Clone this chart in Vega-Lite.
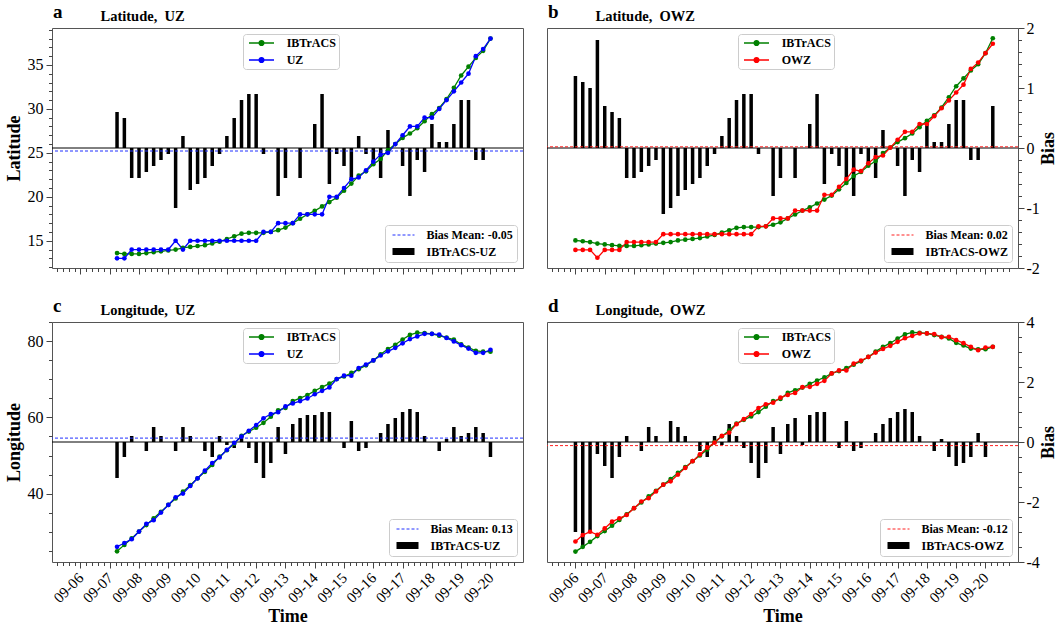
{
  "$schema": "https://vega.github.io/schema/vega-lite/v6.json",
  "padding": {"left": 4, "top": 2, "right": 0, "bottom": 0},
  "config": {
    "font": "Liberation Serif",
    "view": {"stroke": "#555555", "strokeWidth": 1},
    "axis": {"labelFont": "Liberation Serif", "titleFont": "Liberation Serif", "labelColor": "#000000", "titleColor": "#000000", "tickColor": "#444444", "domain": false, "grid": false, "labelOverlap": false, "labelFlush": false},
    "legend": {"labelFont": "Liberation Serif", "labelColor": "#000000"}
  },
  "datasets": {
    "lat_uz": [
      {"time": "2003-09-07T06:00Z", "IBTrACS": 13.6, "UZ": 13, "bias": 0.6},
      {"time": "2003-09-07T12:00Z", "IBTrACS": 13.5, "UZ": 13, "bias": 0.5},
      {"time": "2003-09-07T18:00Z", "IBTrACS": 13.5, "UZ": 14, "bias": -0.5},
      {"time": "2003-09-08T00:00Z", "IBTrACS": 13.5, "UZ": 14, "bias": -0.5},
      {"time": "2003-09-08T06:00Z", "IBTrACS": 13.6, "UZ": 14, "bias": -0.4},
      {"time": "2003-09-08T12:00Z", "IBTrACS": 13.7, "UZ": 14, "bias": -0.3},
      {"time": "2003-09-08T18:00Z", "IBTrACS": 13.8, "UZ": 14, "bias": -0.2},
      {"time": "2003-09-09T00:00Z", "IBTrACS": 13.9, "UZ": 14, "bias": -0.1},
      {"time": "2003-09-09T06:00Z", "IBTrACS": 14.0, "UZ": 15, "bias": -1.0},
      {"time": "2003-09-09T12:00Z", "IBTrACS": 14.2, "UZ": 14, "bias": 0.2},
      {"time": "2003-09-09T18:00Z", "IBTrACS": 14.3, "UZ": 15, "bias": -0.7},
      {"time": "2003-09-10T00:00Z", "IBTrACS": 14.4, "UZ": 15, "bias": -0.6},
      {"time": "2003-09-10T06:00Z", "IBTrACS": 14.5, "UZ": 15, "bias": -0.5},
      {"time": "2003-09-10T12:00Z", "IBTrACS": 14.7, "UZ": 15, "bias": -0.3},
      {"time": "2003-09-10T18:00Z", "IBTrACS": 14.9, "UZ": 15, "bias": -0.1},
      {"time": "2003-09-11T00:00Z", "IBTrACS": 15.2, "UZ": 15, "bias": 0.2},
      {"time": "2003-09-11T06:00Z", "IBTrACS": 15.5, "UZ": 15, "bias": 0.5},
      {"time": "2003-09-11T12:00Z", "IBTrACS": 15.8, "UZ": 15, "bias": 0.8},
      {"time": "2003-09-11T18:00Z", "IBTrACS": 15.9, "UZ": 15, "bias": 0.9},
      {"time": "2003-09-12T00:00Z", "IBTrACS": 15.9, "UZ": 15, "bias": 0.9},
      {"time": "2003-09-12T06:00Z", "IBTrACS": 15.9, "UZ": 16, "bias": -0.1},
      {"time": "2003-09-12T12:00Z", "IBTrACS": 16.0, "UZ": 16, "bias": 0},
      {"time": "2003-09-12T18:00Z", "IBTrACS": 16.2, "UZ": 17, "bias": -0.8},
      {"time": "2003-09-13T00:00Z", "IBTrACS": 16.5, "UZ": 17, "bias": -0.5},
      {"time": "2003-09-13T06:00Z", "IBTrACS": 17.0, "UZ": 17, "bias": 0},
      {"time": "2003-09-13T12:00Z", "IBTrACS": 17.5, "UZ": 18, "bias": -0.5},
      {"time": "2003-09-13T18:00Z", "IBTrACS": 18.0, "UZ": 18, "bias": 0},
      {"time": "2003-09-14T00:00Z", "IBTrACS": 18.4, "UZ": 18, "bias": 0.4},
      {"time": "2003-09-14T06:00Z", "IBTrACS": 18.9, "UZ": 18, "bias": 0.9},
      {"time": "2003-09-14T12:00Z", "IBTrACS": 19.4, "UZ": 20, "bias": -0.6},
      {"time": "2003-09-14T18:00Z", "IBTrACS": 19.9, "UZ": 20, "bias": -0.1},
      {"time": "2003-09-15T00:00Z", "IBTrACS": 20.7, "UZ": 21, "bias": -0.3},
      {"time": "2003-09-15T06:00Z", "IBTrACS": 21.5, "UZ": 22, "bias": -0.5},
      {"time": "2003-09-15T12:00Z", "IBTrACS": 22.4, "UZ": 22.2, "bias": 0.2},
      {"time": "2003-09-15T18:00Z", "IBTrACS": 22.9, "UZ": 23, "bias": -0.1},
      {"time": "2003-09-16T00:00Z", "IBTrACS": 23.7, "UZ": 24, "bias": -0.3},
      {"time": "2003-09-16T06:00Z", "IBTrACS": 24.3, "UZ": 24.8, "bias": -0.5},
      {"time": "2003-09-16T12:00Z", "IBTrACS": 25.3, "UZ": 25, "bias": 0.3},
      {"time": "2003-09-16T18:00Z", "IBTrACS": 26.0, "UZ": 26, "bias": 0},
      {"time": "2003-09-17T00:00Z", "IBTrACS": 26.7, "UZ": 27, "bias": -0.3},
      {"time": "2003-09-17T06:00Z", "IBTrACS": 27.2, "UZ": 28, "bias": -0.8},
      {"time": "2003-09-17T12:00Z", "IBTrACS": 27.8, "UZ": 28, "bias": -0.2},
      {"time": "2003-09-17T18:00Z", "IBTrACS": 28.6, "UZ": 29, "bias": -0.4},
      {"time": "2003-09-18T00:00Z", "IBTrACS": 29.4, "UZ": 29, "bias": 0.4},
      {"time": "2003-09-18T06:00Z", "IBTrACS": 30.1, "UZ": 30, "bias": 0.1},
      {"time": "2003-09-18T12:00Z", "IBTrACS": 31.1, "UZ": 31, "bias": 0.1},
      {"time": "2003-09-18T18:00Z", "IBTrACS": 32.4, "UZ": 32, "bias": 0.4},
      {"time": "2003-09-19T00:00Z", "IBTrACS": 33.8, "UZ": 33, "bias": 0.8},
      {"time": "2003-09-19T06:00Z", "IBTrACS": 34.8, "UZ": 34, "bias": 0.8},
      {"time": "2003-09-19T12:00Z", "IBTrACS": 35.8, "UZ": 36, "bias": -0.2},
      {"time": "2003-09-19T18:00Z", "IBTrACS": 36.6, "UZ": 36.8, "bias": -0.2},
      {"time": "2003-09-20T00:00Z", "IBTrACS": 38.0, "UZ": 38, "bias": 0}
    ],
    "lat_owz": [
      {"time": "2003-09-06T00:00Z", "IBTrACS": 14.2, "OWZ": 13, "bias": 1.2},
      {"time": "2003-09-06T06:00Z", "IBTrACS": 14.1, "OWZ": 13, "bias": 1.1},
      {"time": "2003-09-06T12:00Z", "IBTrACS": 14.0, "OWZ": 13, "bias": 1.0},
      {"time": "2003-09-06T18:00Z", "IBTrACS": 13.8, "OWZ": 12, "bias": 1.8},
      {"time": "2003-09-07T00:00Z", "IBTrACS": 13.7, "OWZ": 13, "bias": 0.7},
      {"time": "2003-09-07T06:00Z", "IBTrACS": 13.6, "OWZ": 13, "bias": 0.6},
      {"time": "2003-09-07T12:00Z", "IBTrACS": 13.5, "OWZ": 13, "bias": 0.5},
      {"time": "2003-09-07T18:00Z", "IBTrACS": 13.5, "OWZ": 14, "bias": -0.5},
      {"time": "2003-09-08T00:00Z", "IBTrACS": 13.5, "OWZ": 14, "bias": -0.5},
      {"time": "2003-09-08T06:00Z", "IBTrACS": 13.6, "OWZ": 14, "bias": -0.4},
      {"time": "2003-09-08T12:00Z", "IBTrACS": 13.7, "OWZ": 14, "bias": -0.3},
      {"time": "2003-09-08T18:00Z", "IBTrACS": 13.8, "OWZ": 14, "bias": -0.2},
      {"time": "2003-09-09T00:00Z", "IBTrACS": 13.9, "OWZ": 15, "bias": -1.1},
      {"time": "2003-09-09T06:00Z", "IBTrACS": 14.0, "OWZ": 15, "bias": -1.0},
      {"time": "2003-09-09T12:00Z", "IBTrACS": 14.2, "OWZ": 15, "bias": -0.8},
      {"time": "2003-09-09T18:00Z", "IBTrACS": 14.3, "OWZ": 15, "bias": -0.7},
      {"time": "2003-09-10T00:00Z", "IBTrACS": 14.4, "OWZ": 15, "bias": -0.6},
      {"time": "2003-09-10T06:00Z", "IBTrACS": 14.5, "OWZ": 15, "bias": -0.5},
      {"time": "2003-09-10T12:00Z", "IBTrACS": 14.7, "OWZ": 15, "bias": -0.3},
      {"time": "2003-09-10T18:00Z", "IBTrACS": 14.9, "OWZ": 15, "bias": -0.1},
      {"time": "2003-09-11T00:00Z", "IBTrACS": 15.2, "OWZ": 15, "bias": 0.2},
      {"time": "2003-09-11T06:00Z", "IBTrACS": 15.5, "OWZ": 15, "bias": 0.5},
      {"time": "2003-09-11T12:00Z", "IBTrACS": 15.8, "OWZ": 15, "bias": 0.8},
      {"time": "2003-09-11T18:00Z", "IBTrACS": 15.9, "OWZ": 15, "bias": 0.9},
      {"time": "2003-09-12T00:00Z", "IBTrACS": 15.9, "OWZ": 15, "bias": 0.9},
      {"time": "2003-09-12T06:00Z", "IBTrACS": 15.9, "OWZ": 16, "bias": -0.1},
      {"time": "2003-09-12T12:00Z", "IBTrACS": 16.0, "OWZ": 16, "bias": 0},
      {"time": "2003-09-12T18:00Z", "IBTrACS": 16.2, "OWZ": 17, "bias": -0.8},
      {"time": "2003-09-13T00:00Z", "IBTrACS": 16.5, "OWZ": 17, "bias": -0.5},
      {"time": "2003-09-13T06:00Z", "IBTrACS": 17.0, "OWZ": 17, "bias": 0},
      {"time": "2003-09-13T12:00Z", "IBTrACS": 17.5, "OWZ": 18, "bias": -0.5},
      {"time": "2003-09-13T18:00Z", "IBTrACS": 18.0, "OWZ": 18, "bias": 0},
      {"time": "2003-09-14T00:00Z", "IBTrACS": 18.4, "OWZ": 18, "bias": 0.4},
      {"time": "2003-09-14T06:00Z", "IBTrACS": 18.9, "OWZ": 18, "bias": 0.9},
      {"time": "2003-09-14T12:00Z", "IBTrACS": 19.4, "OWZ": 20, "bias": -0.6},
      {"time": "2003-09-14T18:00Z", "IBTrACS": 19.9, "OWZ": 20, "bias": -0.1},
      {"time": "2003-09-15T00:00Z", "IBTrACS": 20.7, "OWZ": 21, "bias": -0.3},
      {"time": "2003-09-15T06:00Z", "IBTrACS": 21.5, "OWZ": 22, "bias": -0.5},
      {"time": "2003-09-15T12:00Z", "IBTrACS": 22.4, "OWZ": 23.2, "bias": -0.8},
      {"time": "2003-09-15T18:00Z", "IBTrACS": 22.9, "OWZ": 23, "bias": -0.1},
      {"time": "2003-09-16T00:00Z", "IBTrACS": 23.7, "OWZ": 24, "bias": -0.3},
      {"time": "2003-09-16T06:00Z", "IBTrACS": 24.3, "OWZ": 24.8, "bias": -0.5},
      {"time": "2003-09-16T12:00Z", "IBTrACS": 25.3, "OWZ": 25, "bias": 0.3},
      {"time": "2003-09-16T18:00Z", "IBTrACS": 26.0, "OWZ": 26, "bias": 0},
      {"time": "2003-09-17T00:00Z", "IBTrACS": 26.7, "OWZ": 27, "bias": -0.3},
      {"time": "2003-09-17T06:00Z", "IBTrACS": 27.2, "OWZ": 28, "bias": -0.8},
      {"time": "2003-09-17T12:00Z", "IBTrACS": 27.8, "OWZ": 28, "bias": -0.2},
      {"time": "2003-09-17T18:00Z", "IBTrACS": 28.6, "OWZ": 29, "bias": -0.4},
      {"time": "2003-09-18T00:00Z", "IBTrACS": 29.4, "OWZ": 29, "bias": 0.4},
      {"time": "2003-09-18T06:00Z", "IBTrACS": 30.1, "OWZ": 30, "bias": 0.1},
      {"time": "2003-09-18T12:00Z", "IBTrACS": 31.1, "OWZ": 31, "bias": 0.1},
      {"time": "2003-09-18T18:00Z", "IBTrACS": 32.4, "OWZ": 32, "bias": 0.4},
      {"time": "2003-09-19T00:00Z", "IBTrACS": 33.8, "OWZ": 33, "bias": 0.8},
      {"time": "2003-09-19T06:00Z", "IBTrACS": 34.8, "OWZ": 34, "bias": 0.8},
      {"time": "2003-09-19T12:00Z", "IBTrACS": 35.8, "OWZ": 36, "bias": -0.2},
      {"time": "2003-09-19T18:00Z", "IBTrACS": 36.6, "OWZ": 36.8, "bias": -0.2},
      {"time": "2003-09-20T00:00Z", "IBTrACS": 38.0, "OWZ": 38, "bias": 0},
      {"time": "2003-09-20T06:00Z", "IBTrACS": 39.9, "OWZ": 39.2, "bias": 0.7}
    ],
    "lon_uz": [
      {"time": "2003-09-07T06:00Z", "IBTrACS": 24.8, "UZ": 26.0, "bias": -1.2},
      {"time": "2003-09-07T12:00Z", "IBTrACS": 26.5, "UZ": 27.0, "bias": -0.5},
      {"time": "2003-09-07T18:00Z", "IBTrACS": 28.2, "UZ": 28.0, "bias": 0.2},
      {"time": "2003-09-08T00:00Z", "IBTrACS": 30.0, "UZ": 30.0, "bias": 0},
      {"time": "2003-09-08T06:00Z", "IBTrACS": 31.7, "UZ": 32.0, "bias": -0.3},
      {"time": "2003-09-08T12:00Z", "IBTrACS": 33.5, "UZ": 33.0, "bias": 0.5},
      {"time": "2003-09-08T18:00Z", "IBTrACS": 35.2, "UZ": 35.0, "bias": 0.2},
      {"time": "2003-09-09T00:00Z", "IBTrACS": 37.0, "UZ": 37.0, "bias": 0},
      {"time": "2003-09-09T06:00Z", "IBTrACS": 38.7, "UZ": 39.0, "bias": -0.3},
      {"time": "2003-09-09T12:00Z", "IBTrACS": 40.5, "UZ": 40.0, "bias": 0.5},
      {"time": "2003-09-09T18:00Z", "IBTrACS": 42.2, "UZ": 42.0, "bias": 0.2},
      {"time": "2003-09-10T00:00Z", "IBTrACS": 44.0, "UZ": 44.0, "bias": 0},
      {"time": "2003-09-10T06:00Z", "IBTrACS": 45.7, "UZ": 46.0, "bias": -0.3},
      {"time": "2003-09-10T12:00Z", "IBTrACS": 47.5, "UZ": 48.0, "bias": -0.5},
      {"time": "2003-09-10T18:00Z", "IBTrACS": 49.7, "UZ": 49.5, "bias": 0.2},
      {"time": "2003-09-11T00:00Z", "IBTrACS": 51.4, "UZ": 51.5, "bias": -0.1},
      {"time": "2003-09-11T06:00Z", "IBTrACS": 53.1, "UZ": 53.3, "bias": -0.2},
      {"time": "2003-09-11T12:00Z", "IBTrACS": 55.2, "UZ": 55.0, "bias": 0.2},
      {"time": "2003-09-11T18:00Z", "IBTrACS": 56.3, "UZ": 56.5, "bias": -0.2},
      {"time": "2003-09-12T00:00Z", "IBTrACS": 57.3, "UZ": 58.0, "bias": -0.7},
      {"time": "2003-09-12T06:00Z", "IBTrACS": 58.6, "UZ": 59.8, "bias": -1.2},
      {"time": "2003-09-12T12:00Z", "IBTrACS": 60.2, "UZ": 60.9, "bias": -0.7},
      {"time": "2003-09-12T18:00Z", "IBTrACS": 61.9, "UZ": 61.4, "bias": 0.5},
      {"time": "2003-09-13T00:00Z", "IBTrACS": 62.5, "UZ": 62.9, "bias": -0.4},
      {"time": "2003-09-13T06:00Z", "IBTrACS": 64.3, "UZ": 63.7, "bias": 0.6},
      {"time": "2003-09-13T12:00Z", "IBTrACS": 65.1, "UZ": 64.3, "bias": 0.8},
      {"time": "2003-09-13T18:00Z", "IBTrACS": 65.9, "UZ": 65.0, "bias": 0.9},
      {"time": "2003-09-14T00:00Z", "IBTrACS": 67.0, "UZ": 66.1, "bias": 0.9},
      {"time": "2003-09-14T06:00Z", "IBTrACS": 68.0, "UZ": 67.0, "bias": 1.0},
      {"time": "2003-09-14T12:00Z", "IBTrACS": 68.9, "UZ": 67.9, "bias": 1.0},
      {"time": "2003-09-14T18:00Z", "IBTrACS": 70.1, "UZ": 70.1, "bias": 0},
      {"time": "2003-09-15T00:00Z", "IBTrACS": 70.8, "UZ": 71.0, "bias": -0.2},
      {"time": "2003-09-15T06:00Z", "IBTrACS": 71.7, "UZ": 71.0, "bias": 0.7},
      {"time": "2003-09-15T12:00Z", "IBTrACS": 72.7, "UZ": 73.0, "bias": -0.3},
      {"time": "2003-09-15T18:00Z", "IBTrACS": 73.7, "UZ": 73.9, "bias": -0.2},
      {"time": "2003-09-16T00:00Z", "IBTrACS": 75.0, "UZ": 75.0, "bias": 0},
      {"time": "2003-09-16T06:00Z", "IBTrACS": 76.6, "UZ": 76.3, "bias": 0.3},
      {"time": "2003-09-16T12:00Z", "IBTrACS": 78.0, "UZ": 77.4, "bias": 0.6},
      {"time": "2003-09-16T18:00Z", "IBTrACS": 79.1, "UZ": 78.3, "bias": 0.8},
      {"time": "2003-09-17T00:00Z", "IBTrACS": 80.5, "UZ": 79.5, "bias": 1.0},
      {"time": "2003-09-17T06:00Z", "IBTrACS": 81.7, "UZ": 80.6, "bias": 1.1},
      {"time": "2003-09-17T12:00Z", "IBTrACS": 82.3, "UZ": 81.3, "bias": 1.0},
      {"time": "2003-09-17T18:00Z", "IBTrACS": 82.2, "UZ": 82.0, "bias": 0.2},
      {"time": "2003-09-18T00:00Z", "IBTrACS": 82.0, "UZ": 82.0, "bias": 0},
      {"time": "2003-09-18T06:00Z", "IBTrACS": 81.5, "UZ": 81.8, "bias": -0.3},
      {"time": "2003-09-18T12:00Z", "IBTrACS": 81.0, "UZ": 80.9, "bias": 0.1},
      {"time": "2003-09-18T18:00Z", "IBTrACS": 80.5, "UZ": 80.0, "bias": 0.5},
      {"time": "2003-09-19T00:00Z", "IBTrACS": 79.2, "UZ": 79.0, "bias": 0.2},
      {"time": "2003-09-19T06:00Z", "IBTrACS": 78.4, "UZ": 78.1, "bias": 0.3},
      {"time": "2003-09-19T12:00Z", "IBTrACS": 77.5, "UZ": 77.0, "bias": 0.5},
      {"time": "2003-09-19T18:00Z", "IBTrACS": 77.3, "UZ": 77.0, "bias": 0.3},
      {"time": "2003-09-20T00:00Z", "IBTrACS": 77.3, "UZ": 77.8, "bias": -0.5}
    ],
    "lon_owz": [
      {"time": "2003-09-06T00:00Z", "IBTrACS": 17.1, "OWZ": 20.1, "bias": -3.0},
      {"time": "2003-09-06T06:00Z", "IBTrACS": 18.5, "OWZ": 22.0, "bias": -3.5},
      {"time": "2003-09-06T12:00Z", "IBTrACS": 20.0, "OWZ": 23.0, "bias": -3.0},
      {"time": "2003-09-06T18:00Z", "IBTrACS": 21.7, "OWZ": 22.1, "bias": -0.4},
      {"time": "2003-09-07T00:00Z", "IBTrACS": 23.2, "OWZ": 24.0, "bias": -0.8},
      {"time": "2003-09-07T06:00Z", "IBTrACS": 24.8, "OWZ": 26.0, "bias": -1.2},
      {"time": "2003-09-07T12:00Z", "IBTrACS": 26.5, "OWZ": 27.0, "bias": -0.5},
      {"time": "2003-09-07T18:00Z", "IBTrACS": 28.2, "OWZ": 28.0, "bias": 0.2},
      {"time": "2003-09-08T00:00Z", "IBTrACS": 30.0, "OWZ": 30.0, "bias": 0},
      {"time": "2003-09-08T06:00Z", "IBTrACS": 31.7, "OWZ": 32.0, "bias": -0.3},
      {"time": "2003-09-08T12:00Z", "IBTrACS": 33.5, "OWZ": 33.0, "bias": 0.5},
      {"time": "2003-09-08T18:00Z", "IBTrACS": 35.2, "OWZ": 35.0, "bias": 0.2},
      {"time": "2003-09-09T00:00Z", "IBTrACS": 37.0, "OWZ": 37.0, "bias": 0},
      {"time": "2003-09-09T06:00Z", "IBTrACS": 38.7, "OWZ": 38.0, "bias": 0.7},
      {"time": "2003-09-09T12:00Z", "IBTrACS": 40.5, "OWZ": 40.0, "bias": 0.5},
      {"time": "2003-09-09T18:00Z", "IBTrACS": 42.2, "OWZ": 42.0, "bias": 0.2},
      {"time": "2003-09-10T00:00Z", "IBTrACS": 44.0, "OWZ": 44.0, "bias": 0},
      {"time": "2003-09-10T06:00Z", "IBTrACS": 45.7, "OWZ": 46.0, "bias": -0.3},
      {"time": "2003-09-10T12:00Z", "IBTrACS": 47.5, "OWZ": 48.0, "bias": -0.5},
      {"time": "2003-09-10T18:00Z", "IBTrACS": 49.7, "OWZ": 49.5, "bias": 0.2},
      {"time": "2003-09-11T00:00Z", "IBTrACS": 51.4, "OWZ": 51.5, "bias": -0.1},
      {"time": "2003-09-11T06:00Z", "IBTrACS": 53.1, "OWZ": 52.5, "bias": 0.6},
      {"time": "2003-09-11T12:00Z", "IBTrACS": 55.2, "OWZ": 55.0, "bias": 0.2},
      {"time": "2003-09-11T18:00Z", "IBTrACS": 56.3, "OWZ": 56.5, "bias": -0.2},
      {"time": "2003-09-12T00:00Z", "IBTrACS": 57.3, "OWZ": 58.0, "bias": -0.7},
      {"time": "2003-09-12T06:00Z", "IBTrACS": 58.6, "OWZ": 59.8, "bias": -1.2},
      {"time": "2003-09-12T12:00Z", "IBTrACS": 60.2, "OWZ": 60.9, "bias": -0.7},
      {"time": "2003-09-12T18:00Z", "IBTrACS": 61.9, "OWZ": 61.4, "bias": 0.5},
      {"time": "2003-09-13T00:00Z", "IBTrACS": 62.5, "OWZ": 62.9, "bias": -0.4},
      {"time": "2003-09-13T06:00Z", "IBTrACS": 64.3, "OWZ": 63.7, "bias": 0.6},
      {"time": "2003-09-13T12:00Z", "IBTrACS": 65.1, "OWZ": 64.3, "bias": 0.8},
      {"time": "2003-09-13T18:00Z", "IBTrACS": 65.9, "OWZ": 66.0, "bias": -0.1},
      {"time": "2003-09-14T00:00Z", "IBTrACS": 67.0, "OWZ": 66.1, "bias": 0.9},
      {"time": "2003-09-14T06:00Z", "IBTrACS": 68.0, "OWZ": 67.0, "bias": 1.0},
      {"time": "2003-09-14T12:00Z", "IBTrACS": 68.9, "OWZ": 67.9, "bias": 1.0},
      {"time": "2003-09-14T18:00Z", "IBTrACS": 70.1, "OWZ": 70.1, "bias": 0},
      {"time": "2003-09-15T00:00Z", "IBTrACS": 70.8, "OWZ": 71.0, "bias": -0.2},
      {"time": "2003-09-15T06:00Z", "IBTrACS": 71.7, "OWZ": 71.0, "bias": 0.7},
      {"time": "2003-09-15T12:00Z", "IBTrACS": 72.7, "OWZ": 73.0, "bias": -0.3},
      {"time": "2003-09-15T18:00Z", "IBTrACS": 73.7, "OWZ": 73.9, "bias": -0.2},
      {"time": "2003-09-16T00:00Z", "IBTrACS": 75.0, "OWZ": 75.0, "bias": 0},
      {"time": "2003-09-16T06:00Z", "IBTrACS": 76.6, "OWZ": 76.3, "bias": 0.3},
      {"time": "2003-09-16T12:00Z", "IBTrACS": 78.0, "OWZ": 77.4, "bias": 0.6},
      {"time": "2003-09-16T18:00Z", "IBTrACS": 79.1, "OWZ": 78.3, "bias": 0.8},
      {"time": "2003-09-17T00:00Z", "IBTrACS": 80.5, "OWZ": 79.5, "bias": 1.0},
      {"time": "2003-09-17T06:00Z", "IBTrACS": 81.7, "OWZ": 80.6, "bias": 1.1},
      {"time": "2003-09-17T12:00Z", "IBTrACS": 82.3, "OWZ": 81.3, "bias": 1.0},
      {"time": "2003-09-17T18:00Z", "IBTrACS": 82.2, "OWZ": 82.0, "bias": 0.2},
      {"time": "2003-09-18T00:00Z", "IBTrACS": 82.0, "OWZ": 82.0, "bias": 0},
      {"time": "2003-09-18T06:00Z", "IBTrACS": 81.5, "OWZ": 81.8, "bias": -0.3},
      {"time": "2003-09-18T12:00Z", "IBTrACS": 81.0, "OWZ": 80.9, "bias": 0.1},
      {"time": "2003-09-18T18:00Z", "IBTrACS": 80.5, "OWZ": 81.0, "bias": -0.5},
      {"time": "2003-09-19T00:00Z", "IBTrACS": 79.2, "OWZ": 80.0, "bias": -0.8},
      {"time": "2003-09-19T06:00Z", "IBTrACS": 78.4, "OWZ": 79.1, "bias": -0.7},
      {"time": "2003-09-19T12:00Z", "IBTrACS": 77.5, "OWZ": 78.0, "bias": -0.5},
      {"time": "2003-09-19T18:00Z", "IBTrACS": 77.3, "OWZ": 77.0, "bias": 0.3},
      {"time": "2003-09-20T00:00Z", "IBTrACS": 77.3, "OWZ": 77.8, "bias": -0.5},
      {"time": "2003-09-20T06:00Z", "IBTrACS": 78.0, "OWZ": 78.0, "bias": 0}
    ]
  },
  "resolve": {
    "scale": {"color": "independent", "stroke": "independent"},
    "legend": {"color": "independent", "stroke": "independent"}
  },
  "concat": [
    {
      "width": 471, "height": 240,
      "title": {"text": "a", "anchor": "start", "frame": "group", "fontSize": 19, "fontWeight": "bold", "offset": -14, "dx": 1, "color": "#000000"},
      "resolve": {"scale": {"y": "independent"}, "axis": {"x": "independent", "y": "independent"}},
      "layer": [
        {"data": {"name": "lat_uz"},
         "mark": {"type": "bar", "width": 3.5, "color": "#000000"},
         "encoding": {
           "x": {"field": "time", "type": "temporal", "scale": {"type": "utc", "domain": [1062737280000, 1064097216000]},
                 "axis": {"orient": "top", "ticks": false, "labels": false, "title": "Latitude,\u00a0 UZ", "titleX": 48, "titleY": -8, "titleAlign": "left", "titleAnchor": "start", "titleAngle": 0, "titleBaseline": "alphabetic", "titleFontSize": 14.5, "titleFontWeight": "bold", "titlePadding": 0}},
           "y": {"field": "bias", "type": "quantitative", "scale": {"domain": [-2, 2], "nice": false, "zero": false}, "axis": null}
         }},
        {"data": {"values": [{"kind": "Bias Mean: -0.05", "bias": -0.05}]},
         "mark": {"type": "rule", "color": "#000000", "strokeWidth": 1},
         "encoding": {"y": {"datum": 0, "type": "quantitative", "scale": {"domain": [-2, 2], "nice": false, "zero": false}, "axis": null}}},
        {"data": {"values": [{"kind": "Bias Mean: -0.05", "bias": -0.05}]},
         "mark": {"type": "rule"},
         "encoding": {
           "y": {"field": "bias", "type": "quantitative", "scale": {"domain": [-2, 2], "nice": false, "zero": false}, "axis": null},
           "strokeDash": {"value": [3, 2]},
           "strokeWidth": {"value": 1},
           "stroke": {"field": "kind", "type": "nominal", "scale": {"domain": ["Bias Mean: -0.05", "IBTrACS-UZ"], "range": ["#2030ff", "#000000"]},
                      "legend": {"orient": "bottom-right", "offset": 6, "title": null, "symbolType": "M-4.4,0H4.4", "symbolSize": 25, "clipHeight": 12,
                                 "symbolDash": {"expr": "datum.value === 'IBTrACS-UZ' ? [1, 0] : [3, 2]"},
                                 "symbolStrokeWidth": {"expr": "(datum.value === 'IBTrACS-UZ' ? 7 : 1)"},
                                 "labelFontSize": 12, "labelFontWeight": "bold", "fillColor": "#ffffff", "strokeColor": "#cccccc", "cornerRadius": 3, "padding": 4, "rowPadding": 4.6, "symbolOffset": 8.5, "labelOffset": 17}}
         }},
        {"data": {"name": "lat_uz"},
         "transform": [{"fold": ["IBTrACS", "UZ"], "as": ["series", "value"]}],
         "mark": {"type": "line", "strokeWidth": 1.3},
         "encoding": {
           "x": {"field": "time", "type": "temporal", "scale": {"type": "utc", "domain": [1062737280000, 1064097216000]},
                 "axis": {"orient": "bottom", "values": [1062806400000,1062892800000,1062979200000,1063065600000,1063152000000,1063238400000,1063324800000,1063411200000,1063497600000,1063584000000,1063670400000,1063756800000,1063843200000,1063929600000,1064016000000],
                          "labels": false, "title": null, "tickSize": 6}},
           "y": {"field": "value", "type": "quantitative", "scale": {"domain": [11.9, 39.2], "nice": false, "zero": false},
                 "axis": {"orient": "left", "values": [15, 20, 25, 30, 35], "tickSize": 6, "labelFontSize": 16, "labelPadding": 3,
                          "title": "Latitude", "titleFontSize": 18, "titleFontWeight": "bold", "titlePadding": 4}},
           "color": {"field": "series", "type": "nominal", "scale": {"domain": ["IBTrACS", "UZ"], "range": ["#008000", "#0000ff"]},
                     "legend": {"orient": "none", "legendX": 191, "legendY": 6, "title": null, "symbolType": "M-4.17,0H4.17 M0.8,0A0.8,0.8,0,1,1,-0.8,0A0.8,0.8,0,1,1,0.8,0 M0.45,0A0.45,0.45,0,1,1,-0.45,0A0.45,0.45,0,1,1,0.45,0 M0.12,0A0.12,0.12,0,1,1,-0.12,0A0.12,0.12,0,1,1,0.12,0", "symbolSize": 36, "symbolStrokeWidth": 1.3, "labelFontSize": 12, "labelFontWeight": "bold", "fillColor": "#ffffff", "strokeColor": "#cccccc", "cornerRadius": 3, "padding": 3, "rowPadding": 5, "symbolOffset": 9.5, "labelOffset": 19.2}}
         }},
        {"data": {"name": "lat_uz"},
         "transform": [{"fold": ["IBTrACS", "UZ"], "as": ["series", "value"]}],
         "mark": {"type": "point", "filled": true, "size": 22, "opacity": 1},
         "encoding": {
           "x": {"field": "time", "type": "temporal", "scale": {"type": "utc", "domain": [1062737280000, 1064097216000]},
                 "axis": {"orient": "bottom", "values": [1062737280000,1062754560000,1062771840000,1062789120000,1062806400000,1062823680000,1062840960000,1062858240000,1062875520000,1062892800000,1062910080000,1062927360000,1062944640000,1062961920000,1062979200000,1062996480000,1063013760000,1063031040000,1063048320000,1063065600000,1063082880000,1063100160000,1063117440000,1063134720000,1063152000000,1063169280000,1063186560000,1063203840000,1063221120000,1063238400000,1063255680000,1063272960000,1063290240000,1063307520000,1063324800000,1063342080000,1063359360000,1063376640000,1063393920000,1063411200000,1063428480000,1063445760000,1063463040000,1063480320000,1063497600000,1063514880000,1063532160000,1063549440000,1063566720000,1063584000000,1063601280000,1063618560000,1063635840000,1063653120000,1063670400000,1063687680000,1063704960000,1063722240000,1063739520000,1063756800000,1063774080000,1063791360000,1063808640000,1063825920000,1063843200000,1063860480000,1063877760000,1063895040000,1063912320000,1063929600000,1063946880000,1063964160000,1063981440000,1063998720000,1064016000000,1064033280000,1064050560000,1064067840000,1064085120000],
                          "labels": false, "title": null, "tickSize": 3.5}},
           "y": {"field": "value", "type": "quantitative", "scale": {"domain": [11.9, 39.2], "nice": false, "zero": false},
                 "axis": {"orient": "left", "values": [12,13,14,16,17,18,19,21,22,23,24,26,27,28,29,31,32,33,34,36,37,38,39], "labels": false, "title": null, "tickSize": 3.5}},
           "color": {"field": "series", "type": "nominal", "scale": {"domain": ["IBTrACS", "UZ"], "range": ["#008000", "#0000ff"]},
                     "legend": {"orient": "none", "legendX": 191, "legendY": 6, "title": null, "symbolType": "M-4.17,0H4.17 M0.8,0A0.8,0.8,0,1,1,-0.8,0A0.8,0.8,0,1,1,0.8,0 M0.45,0A0.45,0.45,0,1,1,-0.45,0A0.45,0.45,0,1,1,0.45,0 M0.12,0A0.12,0.12,0,1,1,-0.12,0A0.12,0.12,0,1,1,0.12,0", "symbolSize": 36, "symbolStrokeWidth": 1.3, "labelFontSize": 12, "labelFontWeight": "bold", "fillColor": "#ffffff", "strokeColor": "#cccccc", "cornerRadius": 3, "padding": 3, "rowPadding": 5, "symbolOffset": 9.5, "labelOffset": 19.2}}
         }}
      ]
    },
    {
      "width": 471, "height": 240,
      "title": {"text": "b", "anchor": "start", "frame": "group", "fontSize": 19, "fontWeight": "bold", "offset": -14, "dx": 1, "color": "#000000"},
      "resolve": {"scale": {"y": "independent"}, "axis": {"x": "independent", "y": "independent"}},
      "layer": [
        {"data": {"name": "lat_owz"},
         "mark": {"type": "bar", "width": 3.5, "color": "#000000"},
         "encoding": {
           "x": {"field": "time", "type": "temporal", "scale": {"type": "utc", "domain": [1062737280000, 1064097216000]},
                 "axis": {"orient": "top", "ticks": false, "labels": false, "title": "Latitude,\u00a0 OWZ", "titleX": 48, "titleY": -8, "titleAlign": "left", "titleAnchor": "start", "titleAngle": 0, "titleBaseline": "alphabetic", "titleFontSize": 14.5, "titleFontWeight": "bold", "titlePadding": 0}},
           "y": {"field": "bias", "type": "quantitative", "scale": {"domain": [-2, 2], "nice": false, "zero": false},
                 "axis": {"orient": "right", "values": [-2, -1, 0, 1, 2], "labelExpr": "datum.value < 0 ? '-' + abs(datum.value) : '' + datum.value",
                          "tickSize": 6, "labelFontSize": 16, "labelPadding": 2, "title": "Bias", "titleAngle": 270, "titleBaseline": "top", "titleFontSize": 18, "titleFontWeight": "bold", "titlePadding": 0}}
         }},
        {"data": {"values": [{"kind": "Bias Mean: 0.02", "bias": 0.02}]},
         "mark": {"type": "rule", "color": "#000000", "strokeWidth": 1},
         "encoding": {"y": {"datum": 0, "type": "quantitative", "scale": {"domain": [-2, 2], "nice": false, "zero": false},
                            "axis": {"orient": "right", "values": [-1.8,-1.6,-1.4,-1.2,-0.8,-0.6,-0.4,-0.2,0.2,0.4,0.6,0.8,1.2,1.4,1.6,1.8], "labels": false, "title": null, "tickSize": 3.5}}}},
        {"data": {"values": [{"kind": "Bias Mean: 0.02", "bias": 0.02}]},
         "mark": {"type": "rule"},
         "encoding": {
           "y": {"field": "bias", "type": "quantitative", "scale": {"domain": [-2, 2], "nice": false, "zero": false}, "axis": null},
           "strokeDash": {"value": [3, 2]},
           "strokeWidth": {"value": 1},
           "stroke": {"field": "kind", "type": "nominal", "scale": {"domain": ["Bias Mean: 0.02", "IBTrACS-OWZ"], "range": ["#ff2020", "#000000"]},
                      "legend": {"orient": "bottom-right", "offset": 6, "title": null, "symbolType": "M-4.4,0H4.4", "symbolSize": 25, "clipHeight": 12,
                                 "symbolDash": {"expr": "datum.value === 'IBTrACS-OWZ' ? [1, 0] : [3, 2]"},
                                 "symbolStrokeWidth": {"expr": "(datum.value === 'IBTrACS-OWZ' ? 7 : 1)"},
                                 "labelFontSize": 12, "labelFontWeight": "bold", "fillColor": "#ffffff", "strokeColor": "#cccccc", "cornerRadius": 3, "padding": 4, "rowPadding": 4.6, "symbolOffset": 8.5, "labelOffset": 17}}
         }},
        {"data": {"name": "lat_owz"},
         "transform": [{"fold": ["IBTrACS", "OWZ"], "as": ["series", "value"]}],
         "mark": {"type": "line", "strokeWidth": 1.3},
         "encoding": {
           "x": {"field": "time", "type": "temporal", "scale": {"type": "utc", "domain": [1062737280000, 1064097216000]},
                 "axis": {"orient": "bottom", "values": [1062806400000,1062892800000,1062979200000,1063065600000,1063152000000,1063238400000,1063324800000,1063411200000,1063497600000,1063584000000,1063670400000,1063756800000,1063843200000,1063929600000,1064016000000],
                          "labels": false, "title": null, "tickSize": 6}},
           "y": {"field": "value", "type": "quantitative", "scale": {"domain": [10.7, 41.2], "nice": false, "zero": false}, "axis": null},
           "color": {"field": "series", "type": "nominal", "scale": {"domain": ["IBTrACS", "OWZ"], "range": ["#008000", "#ff0000"]},
                     "legend": {"orient": "none", "legendX": 191, "legendY": 6, "title": null, "symbolType": "M-4.17,0H4.17 M0.8,0A0.8,0.8,0,1,1,-0.8,0A0.8,0.8,0,1,1,0.8,0 M0.45,0A0.45,0.45,0,1,1,-0.45,0A0.45,0.45,0,1,1,0.45,0 M0.12,0A0.12,0.12,0,1,1,-0.12,0A0.12,0.12,0,1,1,0.12,0", "symbolSize": 36, "symbolStrokeWidth": 1.3, "labelFontSize": 12, "labelFontWeight": "bold", "fillColor": "#ffffff", "strokeColor": "#cccccc", "cornerRadius": 3, "padding": 3, "rowPadding": 5, "symbolOffset": 9.5, "labelOffset": 19.2}}
         }},
        {"data": {"name": "lat_owz"},
         "transform": [{"fold": ["IBTrACS", "OWZ"], "as": ["series", "value"]}],
         "mark": {"type": "point", "filled": true, "size": 22, "opacity": 1},
         "encoding": {
           "x": {"field": "time", "type": "temporal", "scale": {"type": "utc", "domain": [1062737280000, 1064097216000]},
                 "axis": {"orient": "bottom", "values": [1062737280000,1062754560000,1062771840000,1062789120000,1062806400000,1062823680000,1062840960000,1062858240000,1062875520000,1062892800000,1062910080000,1062927360000,1062944640000,1062961920000,1062979200000,1062996480000,1063013760000,1063031040000,1063048320000,1063065600000,1063082880000,1063100160000,1063117440000,1063134720000,1063152000000,1063169280000,1063186560000,1063203840000,1063221120000,1063238400000,1063255680000,1063272960000,1063290240000,1063307520000,1063324800000,1063342080000,1063359360000,1063376640000,1063393920000,1063411200000,1063428480000,1063445760000,1063463040000,1063480320000,1063497600000,1063514880000,1063532160000,1063549440000,1063566720000,1063584000000,1063601280000,1063618560000,1063635840000,1063653120000,1063670400000,1063687680000,1063704960000,1063722240000,1063739520000,1063756800000,1063774080000,1063791360000,1063808640000,1063825920000,1063843200000,1063860480000,1063877760000,1063895040000,1063912320000,1063929600000,1063946880000,1063964160000,1063981440000,1063998720000,1064016000000,1064033280000,1064050560000,1064067840000,1064085120000],
                          "labels": false, "title": null, "tickSize": 3.5}},
           "y": {"field": "value", "type": "quantitative", "scale": {"domain": [10.7, 41.2], "nice": false, "zero": false}, "axis": null},
           "color": {"field": "series", "type": "nominal", "scale": {"domain": ["IBTrACS", "OWZ"], "range": ["#008000", "#ff0000"]},
                     "legend": {"orient": "none", "legendX": 191, "legendY": 6, "title": null, "symbolType": "M-4.17,0H4.17 M0.8,0A0.8,0.8,0,1,1,-0.8,0A0.8,0.8,0,1,1,0.8,0 M0.45,0A0.45,0.45,0,1,1,-0.45,0A0.45,0.45,0,1,1,0.45,0 M0.12,0A0.12,0.12,0,1,1,-0.12,0A0.12,0.12,0,1,1,0.12,0", "symbolSize": 36, "symbolStrokeWidth": 1.3, "labelFontSize": 12, "labelFontWeight": "bold", "fillColor": "#ffffff", "strokeColor": "#cccccc", "cornerRadius": 3, "padding": 3, "rowPadding": 5, "symbolOffset": 9.5, "labelOffset": 19.2}}
         }}
      ]
    },
    {
      "width": 471, "height": 240,
      "title": {"text": "c", "anchor": "start", "frame": "group", "fontSize": 19, "fontWeight": "bold", "offset": -14, "dx": 1, "color": "#000000"},
      "resolve": {"scale": {"y": "independent"}, "axis": {"x": "independent", "y": "independent"}},
      "layer": [
        {"data": {"name": "lon_uz"},
         "mark": {"type": "bar", "width": 3.5, "color": "#000000"},
         "encoding": {
           "x": {"field": "time", "type": "temporal", "scale": {"type": "utc", "domain": [1062737280000, 1064097216000]},
                 "axis": {"orient": "top", "ticks": false, "labels": false, "title": "Longitude,\u00a0 UZ", "titleX": 48, "titleY": -8, "titleAlign": "left", "titleAnchor": "start", "titleAngle": 0, "titleBaseline": "alphabetic", "titleFontSize": 14.5, "titleFontWeight": "bold", "titlePadding": 0}},
           "y": {"field": "bias", "type": "quantitative", "scale": {"domain": [-4, 4], "nice": false, "zero": false}, "axis": null}
         }},
        {"data": {"values": [{"kind": "Bias Mean: 0.13", "bias": 0.13}]},
         "mark": {"type": "rule", "color": "#000000", "strokeWidth": 1},
         "encoding": {"y": {"datum": 0, "type": "quantitative", "scale": {"domain": [-4, 4], "nice": false, "zero": false}, "axis": null}}},
        {"data": {"values": [{"kind": "Bias Mean: 0.13", "bias": 0.13}]},
         "mark": {"type": "rule"},
         "encoding": {
           "y": {"field": "bias", "type": "quantitative", "scale": {"domain": [-4, 4], "nice": false, "zero": false}, "axis": null},
           "strokeDash": {"value": [3, 2]},
           "strokeWidth": {"value": 1},
           "stroke": {"field": "kind", "type": "nominal", "scale": {"domain": ["Bias Mean: 0.13", "IBTrACS-UZ"], "range": ["#2030ff", "#000000"]},
                      "legend": {"orient": "bottom-right", "offset": 6, "title": null, "symbolType": "M-4.4,0H4.4", "symbolSize": 25, "clipHeight": 12,
                                 "symbolDash": {"expr": "datum.value === 'IBTrACS-UZ' ? [1, 0] : [3, 2]"},
                                 "symbolStrokeWidth": {"expr": "(datum.value === 'IBTrACS-UZ' ? 7 : 1)"},
                                 "labelFontSize": 12, "labelFontWeight": "bold", "fillColor": "#ffffff", "strokeColor": "#cccccc", "cornerRadius": 3, "padding": 4, "rowPadding": 4.6, "symbolOffset": 8.5, "labelOffset": 17}}
         }},
        {"data": {"name": "lon_uz"},
         "transform": [{"fold": ["IBTrACS", "UZ"], "as": ["series", "value"]}],
         "mark": {"type": "line", "strokeWidth": 1.3},
         "encoding": {
           "x": {"field": "time", "type": "temporal", "scale": {"type": "utc", "domain": [1062737280000, 1064097216000]},
                 "axis": {"orient": "bottom", "values": [1062806400000,1062892800000,1062979200000,1063065600000,1063152000000,1063238400000,1063324800000,1063411200000,1063497600000,1063584000000,1063670400000,1063756800000,1063843200000,1063929600000,1064016000000],
                          "labelExpr": "utcFormat(datum.value, '%m-%d')", "labelAngle": -45, "labelAlign": "right", "labelBaseline": "middle", "labelFontSize": 15, "labelPadding": 7,
                          "title": "Time", "titleFontSize": 18, "titleFontWeight": "bold", "titlePadding": 2, "tickSize": 6}},
           "y": {"field": "value", "type": "quantitative", "scale": {"domain": [22.0, 85.1], "nice": false, "zero": false},
                 "axis": {"orient": "left", "values": [40, 60, 80], "tickSize": 6, "labelFontSize": 16, "labelPadding": 3,
                          "title": "Longitude", "titleFontSize": 18, "titleFontWeight": "bold", "titlePadding": 4}},
           "color": {"field": "series", "type": "nominal", "scale": {"domain": ["IBTrACS", "UZ"], "range": ["#008000", "#0000ff"]},
                     "legend": {"orient": "none", "legendX": 191, "legendY": 6, "title": null, "symbolType": "M-4.17,0H4.17 M0.8,0A0.8,0.8,0,1,1,-0.8,0A0.8,0.8,0,1,1,0.8,0 M0.45,0A0.45,0.45,0,1,1,-0.45,0A0.45,0.45,0,1,1,0.45,0 M0.12,0A0.12,0.12,0,1,1,-0.12,0A0.12,0.12,0,1,1,0.12,0", "symbolSize": 36, "symbolStrokeWidth": 1.3, "labelFontSize": 12, "labelFontWeight": "bold", "fillColor": "#ffffff", "strokeColor": "#cccccc", "cornerRadius": 3, "padding": 3, "rowPadding": 5, "symbolOffset": 9.5, "labelOffset": 19.2}}
         }},
        {"data": {"name": "lon_uz"},
         "transform": [{"fold": ["IBTrACS", "UZ"], "as": ["series", "value"]}],
         "mark": {"type": "point", "filled": true, "size": 22, "opacity": 1},
         "encoding": {
           "x": {"field": "time", "type": "temporal", "scale": {"type": "utc", "domain": [1062737280000, 1064097216000]},
                 "axis": {"orient": "bottom", "values": [1062737280000,1062754560000,1062771840000,1062789120000,1062806400000,1062823680000,1062840960000,1062858240000,1062875520000,1062892800000,1062910080000,1062927360000,1062944640000,1062961920000,1062979200000,1062996480000,1063013760000,1063031040000,1063048320000,1063065600000,1063082880000,1063100160000,1063117440000,1063134720000,1063152000000,1063169280000,1063186560000,1063203840000,1063221120000,1063238400000,1063255680000,1063272960000,1063290240000,1063307520000,1063324800000,1063342080000,1063359360000,1063376640000,1063393920000,1063411200000,1063428480000,1063445760000,1063463040000,1063480320000,1063497600000,1063514880000,1063532160000,1063549440000,1063566720000,1063584000000,1063601280000,1063618560000,1063635840000,1063653120000,1063670400000,1063687680000,1063704960000,1063722240000,1063739520000,1063756800000,1063774080000,1063791360000,1063808640000,1063825920000,1063843200000,1063860480000,1063877760000,1063895040000,1063912320000,1063929600000,1063946880000,1063964160000,1063981440000,1063998720000,1064016000000,1064033280000,1064050560000,1064067840000,1064085120000],
                          "labels": false, "title": null, "tickSize": 3.5}},
           "y": {"field": "value", "type": "quantitative", "scale": {"domain": [22.0, 85.1], "nice": false, "zero": false},
                 "axis": {"orient": "left", "values": [25, 30, 35, 45, 50, 55, 65, 70, 75, 85], "labels": false, "title": null, "tickSize": 3.5}},
           "color": {"field": "series", "type": "nominal", "scale": {"domain": ["IBTrACS", "UZ"], "range": ["#008000", "#0000ff"]},
                     "legend": {"orient": "none", "legendX": 191, "legendY": 6, "title": null, "symbolType": "M-4.17,0H4.17 M0.8,0A0.8,0.8,0,1,1,-0.8,0A0.8,0.8,0,1,1,0.8,0 M0.45,0A0.45,0.45,0,1,1,-0.45,0A0.45,0.45,0,1,1,0.45,0 M0.12,0A0.12,0.12,0,1,1,-0.12,0A0.12,0.12,0,1,1,0.12,0", "symbolSize": 36, "symbolStrokeWidth": 1.3, "labelFontSize": 12, "labelFontWeight": "bold", "fillColor": "#ffffff", "strokeColor": "#cccccc", "cornerRadius": 3, "padding": 3, "rowPadding": 5, "symbolOffset": 9.5, "labelOffset": 19.2}}
         }}
      ]
    },
    {
      "width": 471, "height": 240,
      "title": {"text": "d", "anchor": "start", "frame": "group", "fontSize": 19, "fontWeight": "bold", "offset": -14, "dx": 1, "color": "#000000"},
      "resolve": {"scale": {"y": "independent"}, "axis": {"x": "independent", "y": "independent"}},
      "layer": [
        {"data": {"name": "lon_owz"},
         "mark": {"type": "bar", "width": 3.5, "color": "#000000"},
         "encoding": {
           "x": {"field": "time", "type": "temporal", "scale": {"type": "utc", "domain": [1062737280000, 1064097216000]},
                 "axis": {"orient": "top", "ticks": false, "labels": false, "title": "Longitude,\u00a0 OWZ", "titleX": 48, "titleY": -8, "titleAlign": "left", "titleAnchor": "start", "titleAngle": 0, "titleBaseline": "alphabetic", "titleFontSize": 14.5, "titleFontWeight": "bold", "titlePadding": 0}},
           "y": {"field": "bias", "type": "quantitative", "scale": {"domain": [-4, 4], "nice": false, "zero": false},
                 "axis": {"orient": "right", "values": [-4, -2, 0, 2, 4], "labelExpr": "datum.value < 0 ? '-' + abs(datum.value) : '' + datum.value",
                          "tickSize": 6, "labelFontSize": 16, "labelPadding": 2, "title": "Bias", "titleAngle": 270, "titleBaseline": "top", "titleFontSize": 18, "titleFontWeight": "bold", "titlePadding": 0}}
         }},
        {"data": {"values": [{"kind": "Bias Mean: -0.12", "bias": -0.12}]},
         "mark": {"type": "rule", "color": "#000000", "strokeWidth": 1},
         "encoding": {"y": {"datum": 0, "type": "quantitative", "scale": {"domain": [-4, 4], "nice": false, "zero": false},
                            "axis": {"orient": "right", "values": [-3.5,-3,-2.5,-1.5,-1,-0.5,0.5,1,1.5,2.5,3,3.5], "labels": false, "title": null, "tickSize": 3.5}}}},
        {"data": {"values": [{"kind": "Bias Mean: -0.12", "bias": -0.12}]},
         "mark": {"type": "rule"},
         "encoding": {
           "y": {"field": "bias", "type": "quantitative", "scale": {"domain": [-4, 4], "nice": false, "zero": false}, "axis": null},
           "strokeDash": {"value": [3, 2]},
           "strokeWidth": {"value": 1},
           "stroke": {"field": "kind", "type": "nominal", "scale": {"domain": ["Bias Mean: -0.12", "IBTrACS-OWZ"], "range": ["#ff2020", "#000000"]},
                      "legend": {"orient": "bottom-right", "offset": 6, "title": null, "symbolType": "M-4.4,0H4.4", "symbolSize": 25, "clipHeight": 12,
                                 "symbolDash": {"expr": "datum.value === 'IBTrACS-OWZ' ? [1, 0] : [3, 2]"},
                                 "symbolStrokeWidth": {"expr": "(datum.value === 'IBTrACS-OWZ' ? 7 : 1)"},
                                 "labelFontSize": 12, "labelFontWeight": "bold", "fillColor": "#ffffff", "strokeColor": "#cccccc", "cornerRadius": 3, "padding": 4, "rowPadding": 4.6, "symbolOffset": 8.5, "labelOffset": 17}}
         }},
        {"data": {"name": "lon_owz"},
         "transform": [{"fold": ["IBTrACS", "OWZ"], "as": ["series", "value"]}],
         "mark": {"type": "line", "strokeWidth": 1.3},
         "encoding": {
           "x": {"field": "time", "type": "temporal", "scale": {"type": "utc", "domain": [1062737280000, 1064097216000]},
                 "axis": {"orient": "bottom", "values": [1062806400000,1062892800000,1062979200000,1063065600000,1063152000000,1063238400000,1063324800000,1063411200000,1063497600000,1063584000000,1063670400000,1063756800000,1063843200000,1063929600000,1064016000000],
                          "labelExpr": "utcFormat(datum.value, '%m-%d')", "labelAngle": -45, "labelAlign": "right", "labelBaseline": "middle", "labelFontSize": 15, "labelPadding": 7,
                          "title": "Time", "titleFontSize": 18, "titleFontWeight": "bold", "titlePadding": 2, "tickSize": 6}},
           "y": {"field": "value", "type": "quantitative", "scale": {"domain": [14.0, 85.4], "nice": false, "zero": false}, "axis": null},
           "color": {"field": "series", "type": "nominal", "scale": {"domain": ["IBTrACS", "OWZ"], "range": ["#008000", "#ff0000"]},
                     "legend": {"orient": "none", "legendX": 191, "legendY": 6, "title": null, "symbolType": "M-4.17,0H4.17 M0.8,0A0.8,0.8,0,1,1,-0.8,0A0.8,0.8,0,1,1,0.8,0 M0.45,0A0.45,0.45,0,1,1,-0.45,0A0.45,0.45,0,1,1,0.45,0 M0.12,0A0.12,0.12,0,1,1,-0.12,0A0.12,0.12,0,1,1,0.12,0", "symbolSize": 36, "symbolStrokeWidth": 1.3, "labelFontSize": 12, "labelFontWeight": "bold", "fillColor": "#ffffff", "strokeColor": "#cccccc", "cornerRadius": 3, "padding": 3, "rowPadding": 5, "symbolOffset": 9.5, "labelOffset": 19.2}}
         }},
        {"data": {"name": "lon_owz"},
         "transform": [{"fold": ["IBTrACS", "OWZ"], "as": ["series", "value"]}],
         "mark": {"type": "point", "filled": true, "size": 22, "opacity": 1},
         "encoding": {
           "x": {"field": "time", "type": "temporal", "scale": {"type": "utc", "domain": [1062737280000, 1064097216000]},
                 "axis": {"orient": "bottom", "values": [1062737280000,1062754560000,1062771840000,1062789120000,1062806400000,1062823680000,1062840960000,1062858240000,1062875520000,1062892800000,1062910080000,1062927360000,1062944640000,1062961920000,1062979200000,1062996480000,1063013760000,1063031040000,1063048320000,1063065600000,1063082880000,1063100160000,1063117440000,1063134720000,1063152000000,1063169280000,1063186560000,1063203840000,1063221120000,1063238400000,1063255680000,1063272960000,1063290240000,1063307520000,1063324800000,1063342080000,1063359360000,1063376640000,1063393920000,1063411200000,1063428480000,1063445760000,1063463040000,1063480320000,1063497600000,1063514880000,1063532160000,1063549440000,1063566720000,1063584000000,1063601280000,1063618560000,1063635840000,1063653120000,1063670400000,1063687680000,1063704960000,1063722240000,1063739520000,1063756800000,1063774080000,1063791360000,1063808640000,1063825920000,1063843200000,1063860480000,1063877760000,1063895040000,1063912320000,1063929600000,1063946880000,1063964160000,1063981440000,1063998720000,1064016000000,1064033280000,1064050560000,1064067840000,1064085120000],
                          "labels": false, "title": null, "tickSize": 3.5}},
           "y": {"field": "value", "type": "quantitative", "scale": {"domain": [14.0, 85.4], "nice": false, "zero": false}, "axis": null},
           "color": {"field": "series", "type": "nominal", "scale": {"domain": ["IBTrACS", "OWZ"], "range": ["#008000", "#ff0000"]},
                     "legend": {"orient": "none", "legendX": 191, "legendY": 6, "title": null, "symbolType": "M-4.17,0H4.17 M0.8,0A0.8,0.8,0,1,1,-0.8,0A0.8,0.8,0,1,1,0.8,0 M0.45,0A0.45,0.45,0,1,1,-0.45,0A0.45,0.45,0,1,1,0.45,0 M0.12,0A0.12,0.12,0,1,1,-0.12,0A0.12,0.12,0,1,1,0.12,0", "symbolSize": 36, "symbolStrokeWidth": 1.3, "labelFontSize": 12, "labelFontWeight": "bold", "fillColor": "#ffffff", "strokeColor": "#cccccc", "cornerRadius": 3, "padding": 3, "rowPadding": 5, "symbolOffset": 9.5, "labelOffset": 19.2}}
         }}
      ]
    }
  ],
  "columns": 2,
  "spacing": {"row": 19, "column": 21}
}
